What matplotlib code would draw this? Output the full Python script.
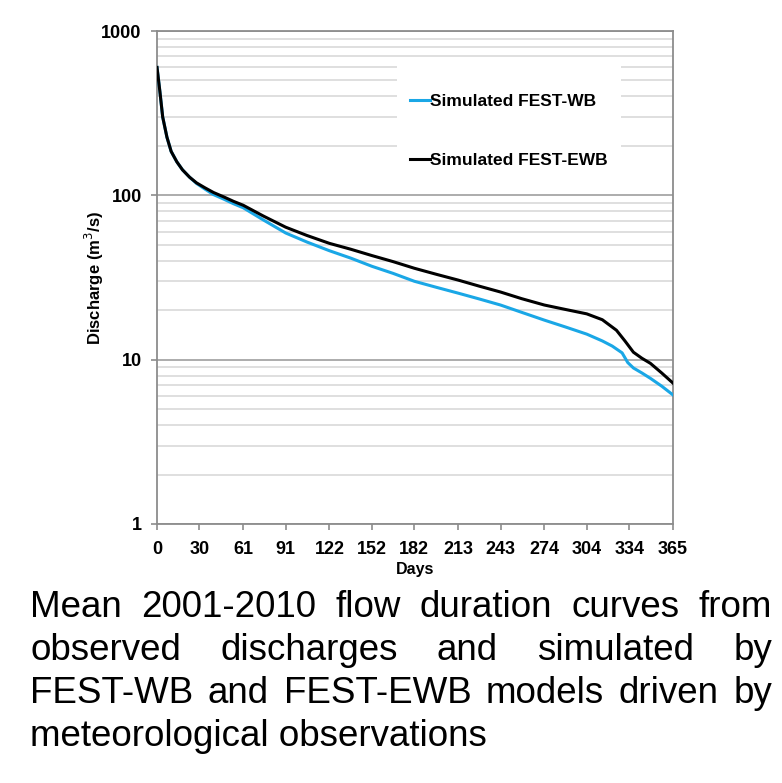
# -*- coding: utf-8 -*-

#%% import

import numpy as np
import matplotlib.pyplot as plt
from matplotlib.patches import Rectangle
from matplotlib.ticker import FixedLocator, NullFormatter


#%% data

# flow duration curves, mean 2001-2010 (day of exceedance, discharge m3/s)
days_ewb = [0, 2, 4, 7, 10, 14, 18, 23, 28, 34, 40, 47, 54, 61, 75, 91, 106, 122, 137, 152,
            167, 182, 198, 213, 228, 243, 258, 274, 289, 304, 315, 325, 331, 337, 343, 349, 357, 365]
q_ewb = [600, 430, 300, 226, 185, 160, 143, 129, 119, 111, 104, 98, 92, 87, 75, 64, 57, 51, 47, 43,
         39.5, 36, 33, 30.5, 28, 25.8, 23.5, 21.5, 20.2, 19.0, 17.5, 15.1, 13.0, 11.1, 10.2, 9.5, 8.3, 7.2]

days_wb = [0, 2, 4, 7, 10, 14, 18, 23, 28, 34, 40, 47, 54, 61, 75, 91, 106, 122, 137, 152,
           167, 182, 198, 213, 228, 243, 258, 274, 289, 304, 315, 322, 329, 333, 337, 343, 349, 357, 365]
q_wb = [600, 430, 300, 226, 185, 160, 143, 129, 118, 109, 101, 95, 89, 84, 71, 59, 52, 46, 41.5, 37,
        33.5, 30, 27.5, 25.4, 23.4, 21.5, 19.4, 17.4, 15.8, 14.3, 13.0, 12.1, 11.0, 9.6, 8.9, 8.3, 7.7, 6.9, 6.1]

day_ticks = [0, 30, 61, 91, 122, 152, 182, 213, 243, 274, 304, 334, 365]

caption_lines = ['Mean 2001-2010 flow duration curves from',
                 'observed discharges and simulated by',
                 'FEST-WB and FEST-EWB models driven by',
                 'meteorological observations']


#%% main

plt.rcParams['font.family'] = ['Liberation Sans', 'DejaVu Sans']

fig = plt.figure(figsize=(7.82, 7.83), dpi=100)
ax = fig.add_axes([0.2008, 0.3308, 0.6598, 0.6296])

ax.plot(days_wb, q_wb, color='#1aa7e6', lw=2.2, label='Simulated FEST-WB', zorder=3)
ax.plot(days_ewb, q_ewb, color='black', lw=2.2, label='Simulated FEST-EWB', zorder=4)

ax.set_yscale('log')
ax.set_ylim(1, 1000)
ax.set_xlim(0, 365)

minor = [m * 10**e for e in range(0, 3) for m in range(2, 10)]
ax.yaxis.set_minor_locator(FixedLocator(minor))
ax.yaxis.set_minor_formatter(NullFormatter())
ax.set_yticks([1, 10, 100, 1000])
ax.set_yticklabels(['1', '10', '100', '1000'])
ax.set_xticks(day_ticks)

ax.grid(which='major', axis='y', color='#a6a6a6', lw=1.3)
ax.grid(which='minor', axis='y', color='#dcdcdc', lw=1.3)
ax.set_axisbelow(True)

for s in ax.spines.values():
    s.set_color('#8c8c8c')
    s.set_linewidth(1.3)

ax.tick_params(axis='both', which='major', length=4, color='#8c8c8c', width=1.2,
               labelsize=13)
ax.tick_params(axis='y', which='major', pad=7)
ax.tick_params(axis='x', which='major', pad=8)
ax.tick_params(axis='y', which='minor', length=0)
for lab in ax.get_xticklabels() + ax.get_yticklabels():
    lab.set_fontweight('bold')

ax.set_xlabel('Days', fontsize=11.5, fontweight='bold', labelpad=3)
ax.set_ylabel('Discharge (m$^3$/s)', fontsize=12, fontweight='bold')
ax.yaxis.set_label_coords(-0.099, 0.5)

# white panel behind the legend, covering the gridlines
ax.add_patch(Rectangle((0.465, 0.672), 0.434, 0.265, transform=ax.transAxes,
                       facecolor='white', edgecolor='none', zorder=2))

leg = ax.legend(loc='upper left', bbox_to_anchor=(0.49, 0.872), frameon=False,
                fontsize=12.5, handlelength=1.15, handletextpad=0.0,
                labelspacing=2.5, borderpad=0, borderaxespad=0)
for t in leg.get_texts():
    t.set_fontweight('bold')

# justified caption under the chart
fs = 26.5
x_left, x_right = 30 / 782, 772 / 782
y0 = 1 - 617 / 783
dy = 43 / 783
fig.canvas.draw()
renderer = fig.canvas.get_renderer()
fig_w = fig.bbox.width
for i, line in enumerate(caption_lines):
    y = y0 - i * dy
    words = line.split()
    if i == len(caption_lines) - 1:
        fig.text(x_left, y, line, fontsize=fs, va='baseline', ha='left')
        continue
    texts = [fig.text(0, y, w, fontsize=fs, va='baseline', ha='left') for w in words]
    widths = [t.get_window_extent(renderer).width / fig_w for t in texts]
    gap = (x_right - x_left - sum(widths)) / (len(words) - 1)
    x = x_left
    for t, w in zip(texts, widths):
        t.set_x(x)
        x += w + gap

plt.savefig('out.png', dpi=100)
